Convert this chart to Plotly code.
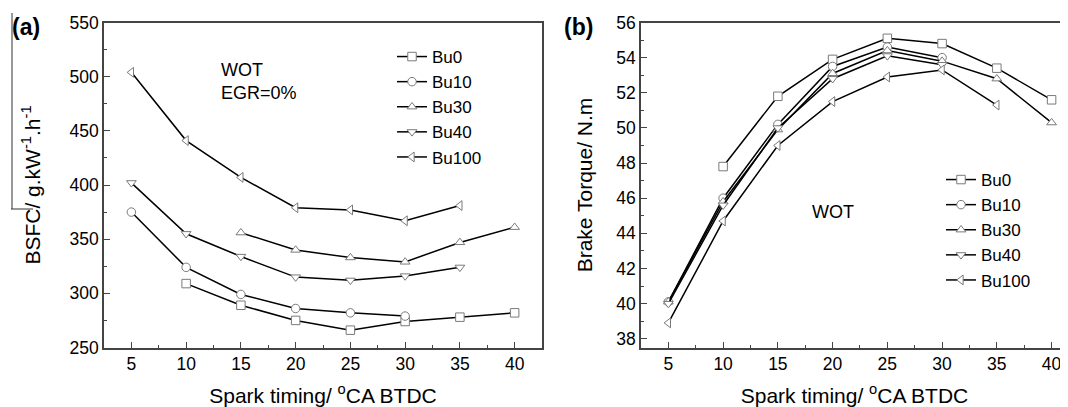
import plotly.graph_objects as go

# ---------------- data ----------------
timing = [5, 10, 15, 20, 25, 30, 35, 40]
fuels = ["Bu0", "Bu10", "Bu30", "Bu40", "Bu100"]
symbols = ["square", "circle", "triangle-up", "triangle-down", "triangle-left"]

bsfc_bu0 = [None, 309, 289, 275, 266, 274, 278, 282]
bsfc_bu10 = [375, 324, 299, 286, 282, 279, None, None]
bsfc_bu30 = [None, None, 356, 340, 333, 329, 347, 361]
bsfc_bu40 = [402, 355, 334, 315, 312, 316, 324, None]
bsfc_bu100 = [504, 441, 407, 379, 377, 367, 381, None]

torque_bu0 = [None, 47.8, 51.8, 53.9, 55.1, 54.8, 53.4, 51.6]
torque_bu10 = [40.1, 46.0, 50.2, 53.5, 54.6, 54.0, None, None]
torque_bu30 = [40.1, 45.8, 49.9, 53.1, 54.4, 53.8, 52.8, 50.3]
torque_bu40 = [40.0, 45.6, 50.0, 52.8, 54.1, 53.6, None, None]
torque_bu100 = [38.9, 44.7, 49.0, 51.5, 52.9, 53.3, 51.3, None]

bsfc = [bsfc_bu0, bsfc_bu10, bsfc_bu30, bsfc_bu40, bsfc_bu100]
torque = [torque_bu0, torque_bu10, torque_bu30, torque_bu40, torque_bu100]

# ---------------- figure ----------------
# The page body adds an 8 px offset, so the figure is 8 px smaller on each
# axis and window pixel positions are converted with that offset.
OFF = 8
W, H = 1068 - OFF, 407 - OFF


def px(x):
    return (x - OFF) / W


def py(y):
    return 1 - (y - OFF) / H


FONT = "Arial, Liberation Sans, Helvetica, sans-serif"
AX = "#444444"

fig = go.Figure()
for name, sym, ya, yb in zip(fuels, symbols, bsfc, torque):
    mk = dict(symbol=sym, size=8.5, color="white", line=dict(color="#7a7a7a", width=1))
    ln = dict(color="black", width=1.5)
    fig.add_trace(go.Scatter(x=timing, y=ya, name=name, mode="lines+markers",
                             marker=mk, line=ln, xaxis="x", yaxis="y", legend="legend"))
    fig.add_trace(go.Scatter(x=timing, y=yb, name=name, mode="lines+markers",
                             marker=mk, line=ln, xaxis="x2", yaxis="y2", legend="legend2"))

TITLE_FONT = dict(size=21, color="black", family=FONT)


def axis_common():
    return dict(showline=True, linecolor=AX, linewidth=1.5, ticks="inside",
                ticklen=6, tickwidth=1.2, tickcolor=AX, showgrid=False, zeroline=False,
                automargin=False,
                tickfont=dict(size=17.5, color="black", family=FONT))


ydom = [py(347.5), py(22.5)]
xa = axis_common()
xa.update(domain=[px(104), px(542)], range=[2.5, 42.5], tick0=5, dtick=5, mirror=True,
          anchor="y",
          minor=dict(ticks="inside", ticklen=3, tickcolor=AX, tickwidth=1.2, tick0=0, dtick=2.5),
          title=dict(text="Spark timing/ <sup>o</sup>CA BTDC", font=TITLE_FONT, standoff=15))
ya_ = axis_common()
ya_.update(domain=ydom, range=[250, 550], dtick=50, mirror=True, anchor="x",
           minor=dict(ticks="inside", ticklen=3, tickcolor=AX, tickwidth=1.2, dtick=25),
           title=dict(text="BSFC/ g.kW<sup>-1</sup>.h<sup>-1</sup>", font=TITLE_FONT, standoff=23))
xb = axis_common()
xb.update(domain=[px(641), 1.0], range=[2.5, 41.5], tick0=5, dtick=5, mirror=True,
          anchor="y2",
          minor=dict(ticks="inside", ticklen=3, tickcolor=AX, tickwidth=1.2, tick0=0, dtick=2.5),
          title=dict(text="Spark timing/ <sup>o</sup>CA BTDC", font=TITLE_FONT, standoff=15))
yb_ = axis_common()
yb_.update(domain=ydom, range=[37.5, 56.0], dtick=2, mirror=False, anchor="x2",
           minor=dict(ticks="inside", ticklen=3, tickcolor=AX, tickwidth=1.2, dtick=1),
           title=dict(text="Brake Torque/ N.m", font=TITLE_FONT, standoff=18))

leg_common = dict(font=dict(size=17, color="black", family=FONT), bgcolor="rgba(0,0,0,0)",
                  borderwidth=0, itemwidth=30, xanchor="left", yanchor="top",
                  tracegroupgap=0)

fig.update_layout(
    width=W, height=H,
    margin=dict(l=0, r=0, t=0, b=0, autoexpand=False),
    paper_bgcolor="white", plot_bgcolor="white",
    font=dict(family=FONT, color="black"),
    xaxis=xa, yaxis=ya_, xaxis2=xb, yaxis2=yb_,
    legend=dict(x=px(392), y=py(39), **leg_common),
    legend2=dict(x=px(941), y=py(162), **leg_common),
    annotations=[
        dict(text="WOT<br>EGR=0%", x=px(219), y=py(58), xref="paper", yref="paper",
             xanchor="left", yanchor="top", align="left", showarrow=False,
             font=dict(size=18, color="black", family=FONT)),
        dict(text="WOT", x=px(833), y=py(212), xref="paper", yref="paper",
             xanchor="center", yanchor="middle", showarrow=False,
             font=dict(size=18, color="black", family=FONT)),
        dict(text="<b>(a)</b>", x=px(10), y=py(27), xref="paper", yref="paper",
             xanchor="left", yanchor="middle", showarrow=False,
             font=dict(size=23, color="black", family=FONT)),
        dict(text="<b>(b)</b>", x=px(562), y=py(27), xref="paper", yref="paper",
             xanchor="left", yanchor="middle", showarrow=False,
             font=dict(size=23, color="black", family=FONT)),
    ],
    shapes=[
        dict(type="line", xref="paper", yref="paper", x0=px(12), x1=px(12),
             y0=py(13), y1=py(209), line=dict(color="#333333", width=1)),
        dict(type="line", xref="paper", yref="paper", x0=px(11), x1=px(33),
             y0=py(209), y1=py(209), line=dict(color="#333333", width=1)),
    ],
)

fig.write_html("out.html")
